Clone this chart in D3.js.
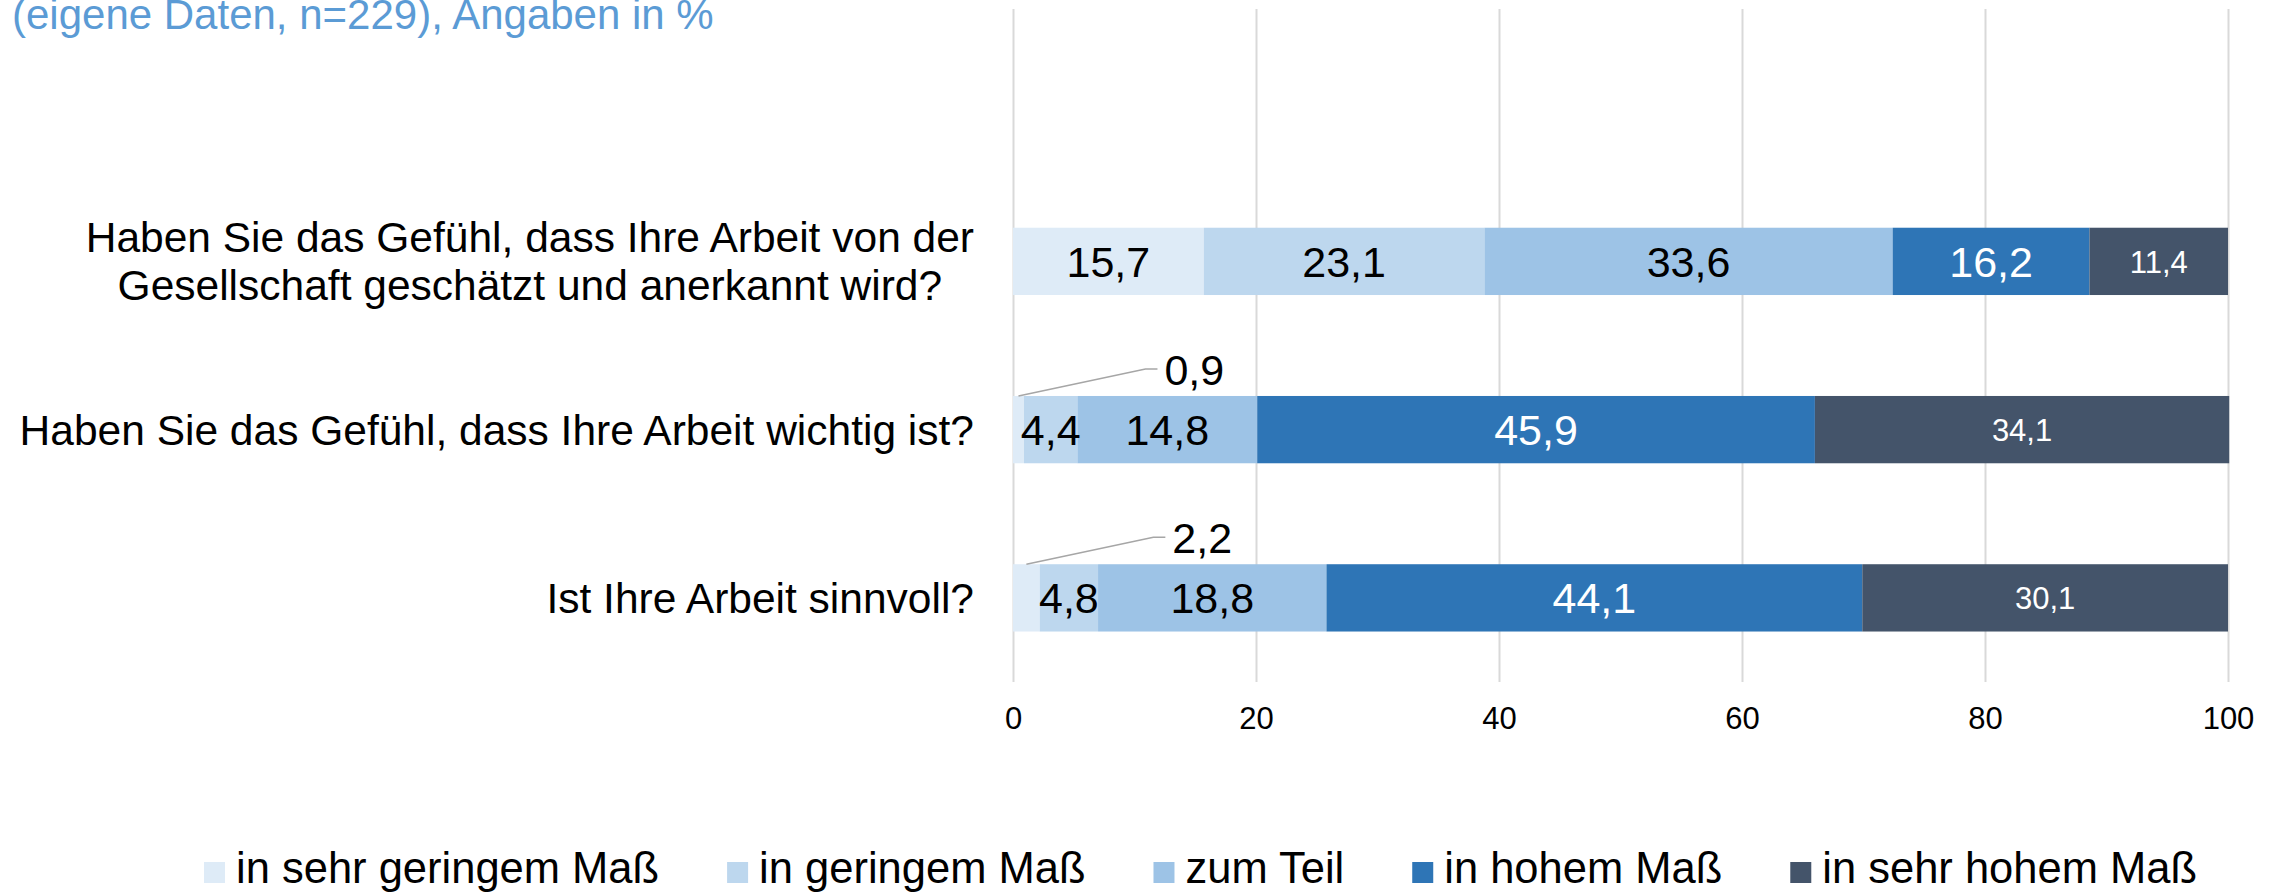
<!DOCTYPE html>
<html>
<head>
<meta charset="utf-8">
<script src="https://cdn.jsdelivr.net/npm/d3@7"></script>
<style>
  body { margin: 0; background: #fff; }
  svg { display: block; font-family: "Liberation Sans", Arial, sans-serif; }
</style>
</head>
<body>
<div id="chart"></div>
<script>
// chart values
var questions = [
    ["Haben Sie das Gefühl, dass Ihre Arbeit von der", "Gesellschaft geschätzt und anerkannt wird?"],
    ["Haben Sie das Gefühl, dass Ihre Arbeit wichtig ist?"],
    ["Ist Ihre Arbeit sinnvoll?"]
];
var answers = ["in sehr geringem Maß", "in geringem Maß", "zum Teil", "in hohem Maß", "in sehr hohem Maß"];
var q1Values = [15.7, 23.1, 33.6, 16.2, 11.4];
var q2Values = [0.9, 4.4, 14.8, 45.9, 34.1];
var q3Values = [2.2, 4.8, 18.8, 44.1, 30.1];
var xTicks = [0, 20, 40, 60, 80, 100];
var titleText = "(eigene Daten, n=229), Angaben in %";

var colors = ["#DEEBF7", "#BDD7EE", "#9DC3E6", "#2E75B6", "#44546A"];

var width = 2280,
    height = 894,
    plotTop = 9,
    plotBottom = 682,
    left = 1013,
    right = 2228;

var rows = [q1Values, q2Values, q3Values].map(function(vals, i) {
    var r = {q: i};
    answers.forEach(function(a, j) { r[a] = vals[j]; });
    return r;
});

var series = d3.stack().keys(answers)(rows);

var svg = d3.select('#chart').append('svg')
    .attr('width', width)
    .attr('height', height);

var x = d3.scaleLinear().domain([0, 100]).range([left, right]);

// first quarter of the plot is an empty slot, like the original
var y = d3.scaleBand()
    .domain(d3.range(questions.length))
    .range([plotTop + (plotBottom - plotTop) / 4, plotBottom])
    .paddingInner(0.6)
    .paddingOuter(0.3);

// title (cut at top, as in the source)
svg.append('text')
    .attr('x', 12)
    .attr('y', 29)
    .attr('fill', '#5B9BD5')
    .style('font-size', '42px')
    .text(titleText);

// grid + tick labels
var axis = svg.append('g')
    .attr('transform', 'translate(0,' + plotBottom + ')')
    .call(d3.axisBottom(x)
        .tickValues(xTicks)
        .tickSize(-(plotBottom - plotTop))
        .tickPadding(25)
        .tickFormat(function(d) { return d; }));
axis.select('.domain').remove();
axis.selectAll('line').attr('stroke', '#D9D9D9').attr('stroke-width', 2);
axis.selectAll('text')
    .attr('fill', '#000')
    .style('font-size', '31px')
    .style('font-family', '"Liberation Sans", Arial, sans-serif');

// bars
var layer = svg.selectAll('g.layer')
    .data(series)
    .enter().append('g')
    .attr('class', 'layer')
    .attr('fill', function(d, i) { return colors[i]; });

layer.selectAll('rect')
    .data(function(d) { return d; })
    .enter().append('rect')
    .attr('x', function(d) { return x(d[0]); })
    .attr('y', function(d) { return y(d.data.q); })
    .attr('width', function(d) { return x(d[1]) - x(d[0]); })
    .attr('height', y.bandwidth());

// value labels
function fmt(v) { return String(v).replace('.', ','); }

series.forEach(function(s, j) {
    s.forEach(function(d) {
        var v = d.data[s.key];
        var mid = x((d[0] + d[1]) / 2);
        var top = y(d.data.q);
        if (v < 3) {
            // small slice: label above the bar with a leader line
            svg.append('polyline')
                .attr('points', [[mid, top], [mid + 127, top - 27], [mid + 139, top - 27]].join(' '))
                .attr('fill', 'none')
                .attr('stroke', '#A6A6A6')
                .attr('stroke-width', 1.5);
            svg.append('text')
                .attr('x', mid + 146)
                .attr('y', top - 26)
                .attr('dy', '0.35em')
                .style('font-size', '43px')
                .attr('fill', '#000')
                .text(fmt(v));
        } else {
            svg.append('text')
                .attr('x', mid)
                .attr('y', top + y.bandwidth() / 2)
                .attr('dy', '0.36em')
                .attr('text-anchor', 'middle')
                .style('font-size', j === 4 ? '31px' : '43px')
                .attr('fill', j >= 3 ? '#fff' : '#000')
                .text(fmt(v));
        }
    });
});

// category labels, wrapped lines centred inside a right-aligned block
var labelRight = 974, lineGap = 48;
questions.forEach(function(lines, i) {
    var g = svg.append('g');
    var cy = y(i) + y.bandwidth() / 2;
    var texts = lines.map(function(line, k) {
        return g.append('text')
            .attr('y', cy + (k - (lines.length - 1) / 2) * lineGap)
            .attr('dy', '0.35em')
            .attr('text-anchor', 'middle')
            .style('font-size', '42.5px')
            .attr('fill', '#000')
            .text(line);
    });
    var w = d3.max(texts, function(t) { return t.node().getComputedTextLength(); });
    texts.forEach(function(t) { t.attr('x', labelRight - w / 2); });
});

// legend
var lx = 204, legendBase = 883;
answers.forEach(function(a, i) {
    svg.append('rect')
        .attr('x', lx)
        .attr('y', legendBase - 21)
        .attr('width', 21)
        .attr('height', 21)
        .attr('fill', colors[i]);
    var t = svg.append('text')
        .attr('x', lx + 32)
        .attr('y', legendBase)
        .style('font-size', '43.5px')
        .attr('fill', '#000')
        .text(a);
    lx += 32 + t.node().getComputedTextLength() + 68;
});
</script>
</body>
</html>
